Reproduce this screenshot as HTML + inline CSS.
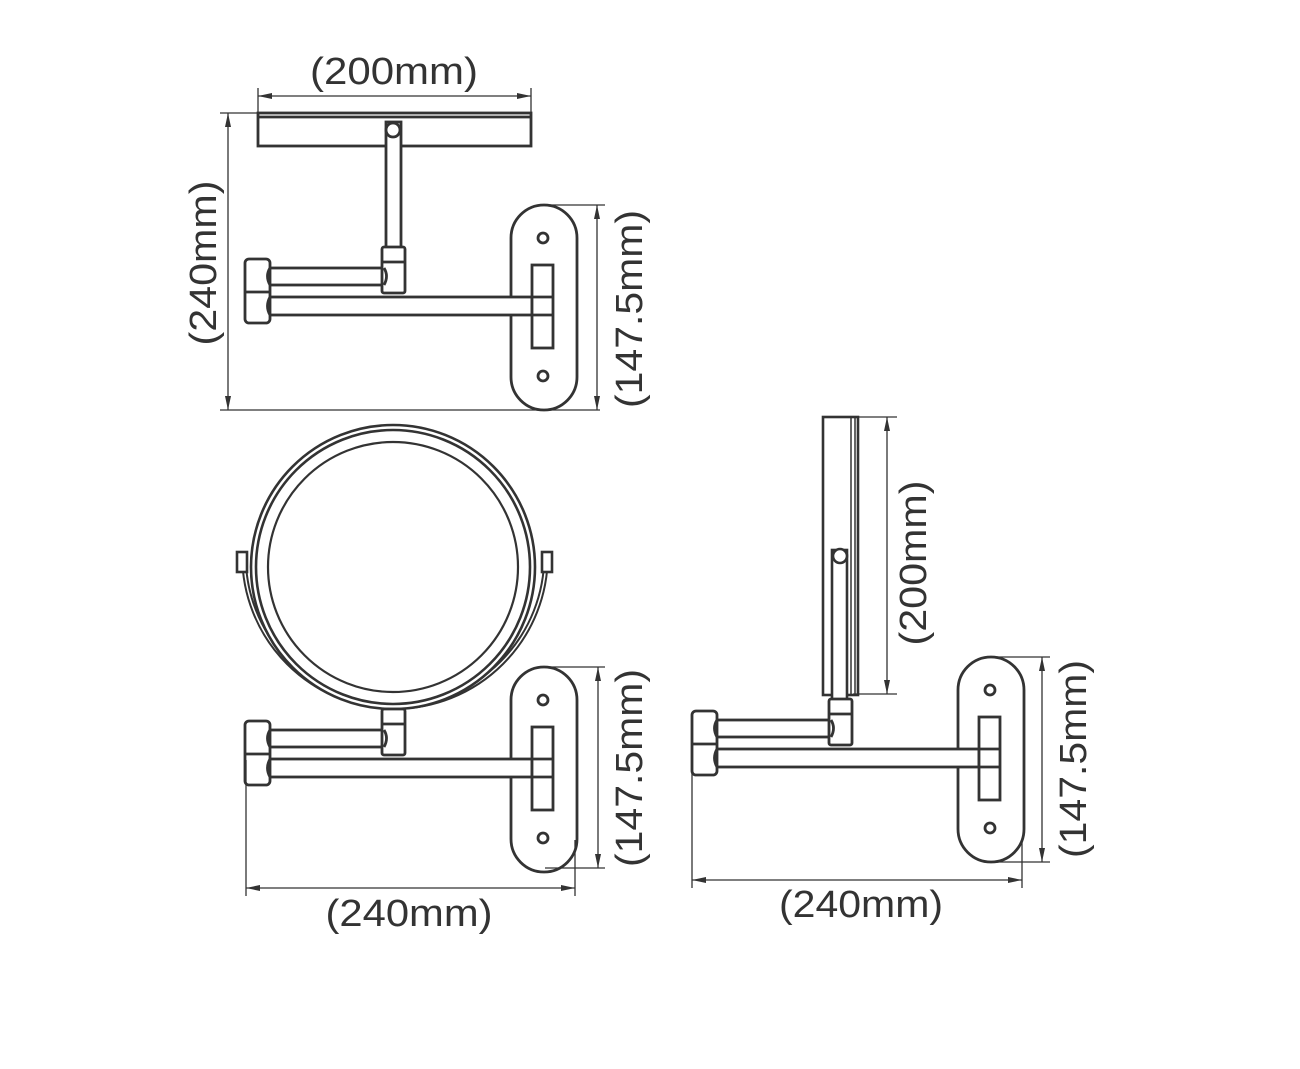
<!DOCTYPE html>
<html><head><meta charset="utf-8"><style>
html,body{margin:0;padding:0;background:#fff;}
svg{display:block}
text{font-family:"Liberation Sans",sans-serif;fill:#333;}
</style></head><body>
<svg width="1300" height="1069" viewBox="0 0 1300 1069" xmlns="http://www.w3.org/2000/svg">
<defs>
<marker id="a" viewBox="0 0 14 6" refX="14" refY="3" markerWidth="14" markerHeight="6" markerUnits="userSpaceOnUse" orient="auto-start-reverse">
<path d="M0,0 L14,3 L0,6 Z" fill="#333"/></marker>
<g id="arm" fill="#fff" stroke="#333" stroke-width="2.8">
<rect x="511" y="205" width="66" height="205" rx="33"/>
<circle cx="543" cy="238" r="5"/>
<circle cx="543" cy="376" r="5"/>
<rect x="268" y="268" width="116" height="17"/>
<rect x="268" y="297" width="264" height="18"/>
<rect x="532" y="265" width="21" height="83"/>
<line x1="532" y1="297" x2="553" y2="297"/>
<line x1="532" y1="315" x2="553" y2="315"/>
<rect x="245" y="259" width="25" height="64" rx="4"/>
<line x1="245" y1="292" x2="270" y2="292"/>
<path d="M270,268 q-5,8 0,17 M270,297 q-5,9 0,18" fill="none"/>
<rect x="382" y="247" width="23" height="46" rx="2"/>
<line x1="382" y1="262" x2="405" y2="262"/>
<path d="M384,268 q5,8 0,17" fill="none"/>
</g>
</defs>

<!-- TOP VIEW -->
<g fill="#fff" stroke="#333" stroke-width="2.8">
<rect x="258" y="113" width="273" height="33"/>
<line x1="258" y1="117" x2="531" y2="117"/>
<rect x="386" y="122" width="15" height="127"/>
<circle cx="393" cy="130" r="7"/>
</g>
<use href="#arm"/>
<g stroke="#333" stroke-width="1.3" fill="none">
<line x1="258" y1="88" x2="258" y2="113"/><line x1="531" y1="88" x2="531" y2="113"/>
<line x1="258" y1="96" x2="531" y2="96" marker-start="url(#a)" marker-end="url(#a)"/>
<line x1="220" y1="113" x2="258" y2="113"/><line x1="220" y1="410" x2="600" y2="410"/>
<line x1="228" y1="113" x2="228" y2="410" marker-start="url(#a)" marker-end="url(#a)"/>
<line x1="545" y1="205" x2="605" y2="205"/>
<line x1="597" y1="205" x2="597" y2="410" marker-start="url(#a)" marker-end="url(#a)"/>
</g>
<text x="394" y="84" font-size="38" text-anchor="middle" textLength="168" lengthAdjust="spacingAndGlyphs">(200mm)</text>
<text transform="translate(216,263) rotate(-90)" font-size="38" text-anchor="middle" textLength="165" lengthAdjust="spacingAndGlyphs">(240mm)</text>
<text transform="translate(642,309) rotate(-90)" font-size="38" text-anchor="middle" textLength="198" lengthAdjust="spacingAndGlyphs">(147.5mm)</text>

<!-- FRONT VIEW -->
<g fill="none" stroke="#333" stroke-width="2.6">
<path d="M244,556 A150,150 0 0 0 546,556" stroke-width="5.5"/>
<path d="M244,556 A150,150 0 0 0 546,556" stroke="#fff" stroke-width="1.5"/>
<rect x="237" y="552" width="10" height="20" fill="#fff"/>
<rect x="542" y="552" width="10" height="20" fill="#fff"/>
<circle cx="393" cy="567" r="142" fill="#fff"/>
<circle cx="393" cy="567" r="137"/>
<circle cx="393" cy="567" r="125" stroke-width="2.2"/>
</g>
<use href="#arm" transform="translate(0,462)"/>
<g stroke="#333" stroke-width="1.3" fill="none">
<line x1="545" y1="667" x2="605" y2="667"/><line x1="545" y1="868" x2="605" y2="868"/>
<line x1="598" y1="667" x2="598" y2="868" marker-start="url(#a)" marker-end="url(#a)"/>
<line x1="246" y1="760" x2="246" y2="896"/><line x1="575" y1="840" x2="575" y2="896"/>
<line x1="246" y1="888" x2="575" y2="888" marker-start="url(#a)" marker-end="url(#a)"/>
</g>
<text transform="translate(642,768) rotate(-90)" font-size="38" text-anchor="middle" textLength="198" lengthAdjust="spacingAndGlyphs">(147.5mm)</text>
<text x="409" y="926" font-size="38" text-anchor="middle" textLength="167" lengthAdjust="spacingAndGlyphs">(240mm)</text>

<!-- SIDE VIEW -->
<g fill="#fff" stroke="#333" stroke-width="2.6">
<rect x="823" y="417" width="35" height="278"/>
<line x1="851" y1="417" x2="851" y2="695" stroke-width="1.5"/>
<line x1="855" y1="417" x2="855" y2="695" stroke-width="1.5"/>
<rect x="832" y="550" width="15" height="152"/>
<circle cx="840" cy="556" r="7"/>
</g>
<use href="#arm" transform="translate(447,452)"/>
<g stroke="#333" stroke-width="1.3" fill="none">
<line x1="853" y1="417" x2="897" y2="417"/><line x1="853" y1="694" x2="897" y2="694"/>
<line x1="887" y1="417" x2="887" y2="694" marker-start="url(#a)" marker-end="url(#a)"/>
<line x1="990" y1="657" x2="1050" y2="657"/><line x1="990" y1="862" x2="1050" y2="862"/>
<line x1="1042" y1="657" x2="1042" y2="862" marker-start="url(#a)" marker-end="url(#a)"/>
<line x1="692" y1="760" x2="692" y2="888"/><line x1="1022" y1="840" x2="1022" y2="888"/>
<line x1="692" y1="880" x2="1022" y2="880" marker-start="url(#a)" marker-end="url(#a)"/>
</g>
<text transform="translate(926,563) rotate(-90)" font-size="38" text-anchor="middle" textLength="165" lengthAdjust="spacingAndGlyphs">(200mm)</text>
<text transform="translate(1086,759) rotate(-90)" font-size="38" text-anchor="middle" textLength="198" lengthAdjust="spacingAndGlyphs">(147.5mm)</text>
<text x="861" y="917" font-size="38" text-anchor="middle" textLength="164" lengthAdjust="spacingAndGlyphs">(240mm)</text>
</svg>
</body></html>
